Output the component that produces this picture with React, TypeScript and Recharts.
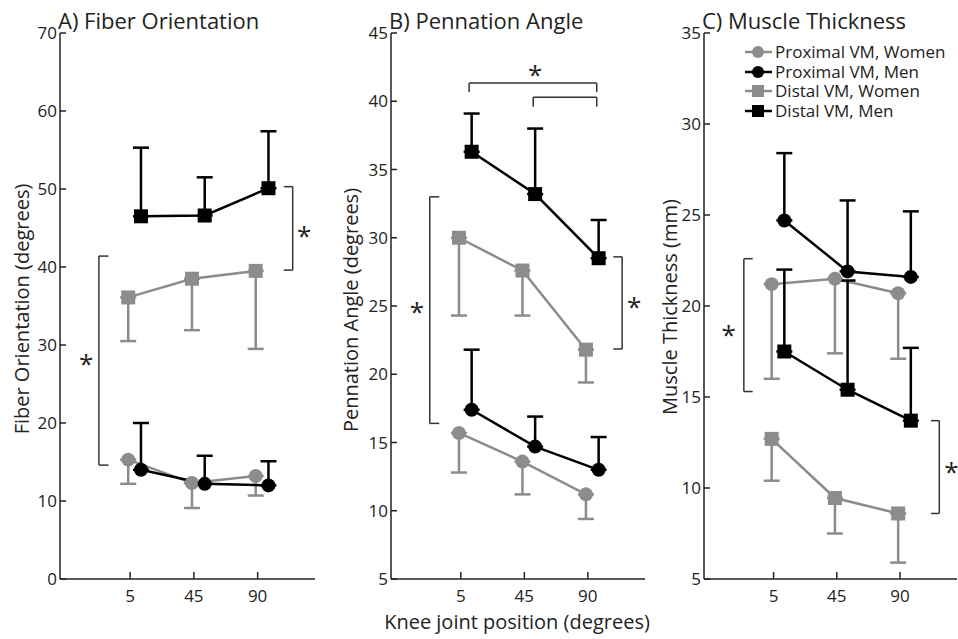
import { LineChart, Line, XAxis, YAxis, ErrorBar, ReferenceLine, ReferenceDot, Legend } from 'recharts';

// knee joint positions (degrees), drawn at equal spacing
const kneeLabels = ['5', '45', '90'];
const kneeIdx = [1, 2, 3];

const seriesNames = ['Proximal VM, Women', 'Proximal VM, Men', 'Distal VM, Women', 'Distal VM, Men'];

// A) Fiber orientation (degrees): mean and one-sided SD end
const fiberProxWomen = [15.3, 12.3, 13.2];
const fiberProxWomenLow = [12.2, 9.1, 10.7];
const fiberProxMen = [14.0, 12.2, 12.0];
const fiberProxMenHigh = [20.0, 15.8, 15.1];
const fiberDistWomen = [36.1, 38.5, 39.5];
const fiberDistWomenLow = [30.5, 31.9, 29.5];
const fiberDistMen = [46.5, 46.6, 50.1];
const fiberDistMenHigh = [55.3, 51.5, 57.4];

// B) Pennation angle (degrees)
const pennProxWomen = [15.7, 13.6, 11.2];
const pennProxWomenLow = [12.8, 11.2, 9.4];
const pennProxMen = [17.4, 14.7, 13.0];
const pennProxMenHigh = [21.8, 16.9, 15.4];
const pennDistWomen = [30.0, 27.6, 21.8];
const pennDistWomenLow = [24.3, 24.3, 19.4];
const pennDistMen = [36.3, 33.2, 28.5];
const pennDistMenHigh = [39.1, 38.0, 31.3];

// C) Muscle thickness (mm)
const thickProxWomen = [21.2, 21.5, 20.7];
const thickProxWomenLow = [16.0, 17.4, 17.1];
const thickProxMen = [24.7, 21.9, 21.6];
const thickProxMenHigh = [28.4, 25.8, 25.2];
const thickDistWomen = [12.7, 9.45, 8.6];
const thickDistWomenLow = [10.4, 7.5, 5.9];
const thickDistMen = [17.5, 15.4, 13.7];
const thickDistMenHigh = [22.0, 21.4, 17.7];

const fiberTicks = [0, 10, 20, 30, 40, 50, 60, 70];
const pennTicks = [5, 10, 15, 20, 25, 30, 35, 40, 45];
const thickTicks = [5, 10, 15, 20, 25, 30, 35];

const GRAY = '#8c8c8c';
const BLACK = '#000000';
const INK = '#222222';
const FONT = '"Open Sans", sans-serif';

function rows(mean: number[], bound: number[], women: boolean) {
  return mean.map((m, i) => ({
    x: kneeIdx[i] + (women ? -0.03 : 0.17),
    y: m,
    err: women ? [m - bound[i], 0] : [0, bound[i] - m],
  }));
}

function makeSeries(pw: number[], pwl: number[], pm: number[], pmh: number[], dw: number[], dwl: number[], dm: number[], dmh: number[]) {
  return [
    { name: seriesNames[0], color: GRAY, shape: 'circle', data: rows(pw, pwl, true) },
    { name: seriesNames[1], color: BLACK, shape: 'circle', data: rows(pm, pmh, false) },
    { name: seriesNames[2], color: GRAY, shape: 'square', data: rows(dw, dwl, true) },
    { name: seriesNames[3], color: BLACK, shape: 'square', data: rows(dm, dmh, false) },
  ];
}

// vertical bracket: x, y1, y2, tick end x ; horizontal: y, x1, x2, tick end y
type VB = { x: number; y1: number; y2: number; tx: number };
type HB = { y: number; x1: number; x2: number; ty: number };

const panels = [
  {
    title: 'A) Fiber Orientation', yLabel: 'Fiber Orientation (degrees)',
    left: 0, width: 330, right: 15, domain: [0, 70], ticks: fiberTicks,
    labelX: 22, labelY: 309,
    series: makeSeries(fiberProxWomen, fiberProxWomenLow, fiberProxMen, fiberProxMenHigh, fiberDistWomen, fiberDistWomenLow, fiberDistMen, fiberDistMenHigh),
    vb: [{ x: 3.55, y1: 50.3, y2: 39.6, tx: 3.41 }, { x: 0.51, y1: 41.4, y2: 14.6, tx: 0.66 }] as VB[],
    hb: [] as HB[],
    stars: [{ x: 3.73, y: 44.5 }, { x: 0.31, y: 28.1 }],
  },
  {
    title: 'B) Pennation Angle', yLabel: 'Pennation Angle (degrees)',
    left: 331, width: 330, right: 16, domain: [5, 45], ticks: pennTicks,
    labelX: 351, labelY: 310,
    series: makeSeries(pennProxWomen, pennProxWomenLow, pennProxMen, pennProxMenHigh, pennDistWomen, pennDistWomenLow, pennDistMen, pennDistMenHigh),
    vb: [{ x: 0.51, y1: 33.0, y2: 16.4, tx: 0.66 }, { x: 3.54, y1: 28.6, y2: 21.85, tx: 3.4 }] as VB[],
    hb: [{ y: 41.34, x1: 1.13, x2: 3.14, ty: 40.68 }, { y: 40.3, x1: 2.14, x2: 3.14, ty: 39.6 }] as HB[],
    stars: [{ x: 2.17, y: 42.2 }, { x: 0.31, y: 24.85 }, { x: 3.73, y: 25.2 }],
  },
  {
    title: 'C) Muscle Thickness', yLabel: 'Muscle Thickness (mm)',
    left: 644, width: 314, right: 1, domain: [5, 35], ticks: thickTicks,
    labelX: 670, labelY: 307, legend: true,
    series: makeSeries(thickProxWomen, thickProxWomenLow, thickProxMen, thickProxMenHigh, thickDistWomen, thickDistWomenLow, thickDistMen, thickDistMenHigh),
    vb: [{ x: 0.53, y1: 22.6, y2: 15.3, tx: 0.67 }, { x: 3.62, y1: 13.7, y2: 8.6, tx: 3.49 }] as VB[],
    hb: [] as HB[],
    stars: [{ x: 0.29, y: 18.6 }, { x: 3.81, y: 11.1 }],
  },
];

function marker(shape: string, color: string) {
  return (p: any) =>
    shape === 'circle'
      ? <circle key={`c${p.index}`} cx={p.cx} cy={p.cy} r={7} fill={color} />
      : <rect key={`s${p.index}`} x={p.cx - 7} y={p.cy - 7} width={14} height={14} fill={color} />;
}

function LegendBox({ payload }: any) {
  const items = [...(payload || [])].sort((a: any, b: any) => seriesNames.indexOf(a.value) - seriesNames.indexOf(b.value));
  return (
    <div style={{ fontFamily: FONT, fontSize: 17, lineHeight: '19.7px', color: INK }}>
      {items.map((e: any) => (
        <div key={e.value} style={{ display: 'flex', alignItems: 'center', height: 19.7, whiteSpace: 'nowrap' }}>
          <svg width={28} height={16}>
            <line x1={0} x2={27} y1={8} y2={8} stroke={e.color} strokeWidth={2.5} />
            {e.type === 'circle'
              ? <circle cx={13} cy={8} r={6} fill={e.color} />
              : <rect x={7} y={2} width={12} height={12} fill={e.color} />}
          </svg>
          <span style={{ marginLeft: 2, display: 'inline-block', height: 19.7, lineHeight: '19.7px', overflow: 'visible' }}>{e.value}</span>
        </div>
      ))}
    </div>
  );
}

const star = (p: any) => (
  <text x={p.cx} y={p.cy + 13} textAnchor="middle" fontSize={26} fontFamily={FONT} fill={INK}>*</text>
);

function Panel({ cfg }: { cfg: any }) {
  return (
    <div style={{ position: 'absolute', left: cfg.left, top: 0 }}>
      <LineChart width={cfg.width} height={639} margin={{ top: 33, right: cfg.right, bottom: 0, left: 0 }}>
        <XAxis
          type="number" dataKey="x" domain={[-0.1, 3.9]} ticks={kneeIdx} allowDataOverflow
          tickFormatter={(v: number) => kneeLabels[v - 1]} height={60}
          tickSize={-7} tickMargin={18} stroke={INK} strokeWidth={1.5}
          tick={{ fill: INK, fontSize: 17, fontFamily: FONT }}
        />
        <YAxis
          type="number" domain={cfg.domain} ticks={cfg.ticks} allowDataOverflow width={60}
          tickSize={-6} tickMargin={9} stroke={INK} strokeWidth={1.5}
          tick={{ fill: INK, fontSize: 17, fontFamily: FONT }}
        />
        {cfg.vb.map((b: VB, i: number) => [
          <ReferenceLine key={`v${i}`} segment={[{ x: b.x, y: b.y1 }, { x: b.x, y: b.y2 }]} stroke="#333" strokeWidth={1.5} ifOverflow="visible" />,
          <ReferenceLine key={`vt${i}`} segment={[{ x: b.tx, y: b.y1 }, { x: b.x, y: b.y1 }]} stroke="#333" strokeWidth={1.5} ifOverflow="visible" />,
          <ReferenceLine key={`vb${i}`} segment={[{ x: b.tx, y: b.y2 }, { x: b.x, y: b.y2 }]} stroke="#333" strokeWidth={1.5} ifOverflow="visible" />,
        ])}
        {cfg.hb.map((b: HB, i: number) => [
          <ReferenceLine key={`h${i}`} segment={[{ x: b.x1, y: b.y }, { x: b.x2, y: b.y }]} stroke="#333" strokeWidth={1.5} ifOverflow="visible" />,
          <ReferenceLine key={`hl${i}`} segment={[{ x: b.x1, y: b.y }, { x: b.x1, y: b.ty }]} stroke="#333" strokeWidth={1.5} ifOverflow="visible" />,
          <ReferenceLine key={`hr${i}`} segment={[{ x: b.x2, y: b.y }, { x: b.x2, y: b.ty }]} stroke="#333" strokeWidth={1.5} ifOverflow="visible" />,
        ])}
        {cfg.stars.map((s: any, i: number) => (
          <ReferenceDot key={`st${i}`} x={s.x} y={s.y} r={0} ifOverflow="visible" shape={star} />
        ))}
        {cfg.series.map((s: any) => (
          <Line
            key={s.name} data={s.data} dataKey="y" name={s.name} stroke={s.color} strokeWidth={2.5}
            dot={marker(s.shape, s.color)} activeDot={false} legendType={s.shape}
            isAnimationActive={false}
          >
            <ErrorBar dataKey="err" direction="y" width={8} strokeWidth={2.5} stroke={s.color} />
          </Line>
        ))}
        {cfg.legend && (
          <Legend
            layout="vertical" align="center" verticalAlign="middle"
            wrapperStyle={{ left: 101, top: 42, width: 'auto' }}
            content={<LegendBox />}
          />
        )}
      </LineChart>
      <div style={{ position: 'absolute', left: 58, top: 9, fontFamily: FONT, fontSize: 22, lineHeight: '22px', color: INK, whiteSpace: 'nowrap' }}>
        {cfg.title}
      </div>
    </div>
  );
}

export default function App() {
  return (
    <div style={{ position: 'fixed', left: 0, top: 0, width: 958, height: 639, background: '#fff', overflow: 'hidden' }}>
      {panels.map((cfg) => <Panel key={cfg.title} cfg={cfg} />)}
      {panels.map((cfg) => (
        <div
          key={cfg.yLabel}
          style={{
            position: 'absolute', left: cfg.labelX, top: cfg.labelY, transform: 'translate(-50%, -50%) rotate(-90deg)',
            fontFamily: FONT, fontSize: 20, lineHeight: '20px', color: INK, whiteSpace: 'nowrap',
          }}
        >
          {cfg.yLabel}
        </div>
      ))}
      <div
        style={{
          position: 'absolute', left: 517, top: 622, transform: 'translate(-50%, -50%)',
          fontFamily: FONT, fontSize: 20, lineHeight: '20px', color: INK, whiteSpace: 'nowrap',
        }}
      >
        Knee joint position (degrees)
      </div>
    </div>
  );
}
